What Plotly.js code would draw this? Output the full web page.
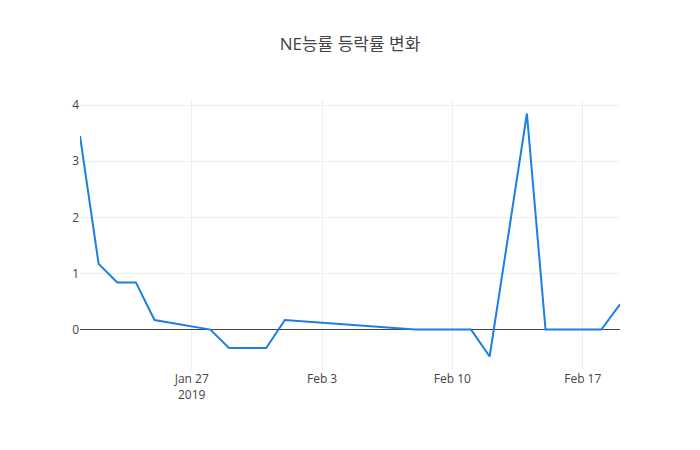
<!DOCTYPE html>
<html>
<head>
<meta charset="utf-8">
<script src="https://cdn.plot.ly/plotly-3.0.1.min.js"></script>
<style>html,body{margin:0;padding:0;}#chart{width:700px;height:450px;}</style>
</head>
<body>
<div id="chart"></div>
<script>
const dates = ['2019-01-21','2019-01-22','2019-01-23','2019-01-24','2019-01-25','2019-01-28','2019-01-29','2019-01-30','2019-01-31','2019-02-01','2019-02-07','2019-02-08','2019-02-11','2019-02-12','2019-02-13','2019-02-14','2019-02-15','2019-02-18','2019-02-19'];
const changeRate = [3.45, 1.17, 0.84, 0.84, 0.17, 0, -0.33, -0.33, -0.33, 0.17, 0.02, 0, 0, -0.48, 1.68, 3.85, 0, 0, 0.45];
const chartTitle = 'NE능률 등락률 변화';

Plotly.newPlot('chart', [{
  x: dates,
  y: changeRate,
  type: 'scatter',
  mode: 'lines',
  line: {color: '#1a7fe6', width: 2}
}], {
  width: 700,
  height: 450,
  title: {text: chartTitle, font: {family: '"Open Sans", "Noto Sans CJK KR", sans-serif', size: 17, color: '#444'}},
  font: {family: '"Open Sans", "Noto Sans CJK KR", sans-serif'},
  xaxis: {type: 'date'},
  yaxis: {zeroline: true, zerolinecolor: '#444'},
  paper_bgcolor: '#fff',
  plot_bgcolor: '#fff'
}, {displayModeBar: false});
</script>
</body>
</html>
